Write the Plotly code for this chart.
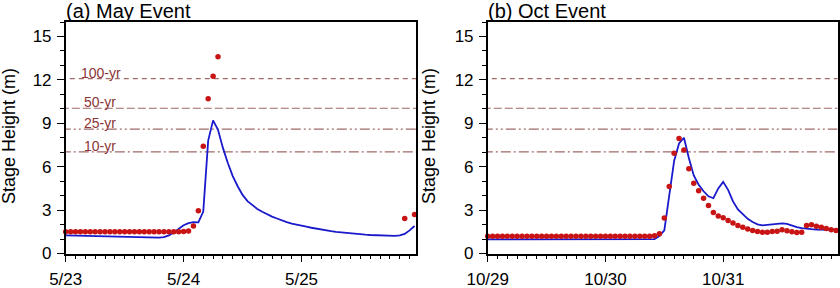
import plotly.graph_objects as go

hours = list(range(72))

# (a) May event
obs_may = [1.5, 1.5, 1.5, 1.5, 1.5, 1.5, 1.5, 1.5, 1.5, 1.5,
           1.5, 1.5, 1.5, 1.5, 1.5, 1.5, 1.5, 1.5, 1.5, 1.5,
           1.5, 1.5, 1.5, 1.5, 1.52, 1.55, 1.9, 2.95, 7.42, 10.7,
           12.25, 13.6, None, None, None, None, None, None, None, None,
           None, None, None, None, None, None, None, None, None, None,
           None, None, None, None, None, None, None, None, None, None,
           None, None, None, None, None, None, None, None, None, 2.42,
           None, 2.7]
model_may = [1.25, 1.24, 1.23, 1.22, 1.21, 1.2, 1.19, 1.18, 1.17, 1.16,
             1.15, 1.14, 1.13, 1.13, 1.12, 1.12, 1.11, 1.11, 1.1, 1.1,
             1.13, 1.25, 1.45, 1.72, 1.95, 2.1, 2.17, 2.15, 2.9, 7.8,
             9.2, 8.55, 7.3, 6.25, 5.35, 4.65, 4.05, 3.62, 3.32, 3.08,
             2.88, 2.7, 2.55, 2.42, 2.28, 2.17, 2.07, 1.98, 1.92, 1.85,
             1.78, 1.71, 1.65, 1.59, 1.54, 1.49, 1.45, 1.41, 1.38, 1.35,
             1.32, 1.3, 1.28, 1.26, 1.25, 1.24, 1.23, 1.22, 1.25, 1.35,
             1.6, 1.9]

# (b) Oct event
obs_oct = [1.2, 1.2, 1.2, 1.2, 1.2, 1.2, 1.2, 1.2, 1.2, 1.2,
           1.2, 1.2, 1.2, 1.2, 1.2, 1.2, 1.2, 1.2, 1.2, 1.2,
           1.2, 1.2, 1.2, 1.2, 1.2, 1.2, 1.2, 1.2, 1.2, 1.2,
           1.2, 1.2, 1.2, 1.2, 1.22, 1.36, 2.46, 4.63, 6.93, 7.95,
           7.16, 5.85, 4.86, 4.33, 3.82, 3.32, 2.83, 2.6, 2.47, 2.28,
           2.1, 1.94, 1.82, 1.7, 1.59, 1.52, 1.47, 1.47, 1.52, 1.54,
           1.64, 1.57, 1.5, 1.45, 1.47, 1.94, 1.98, 1.88, 1.82, 1.73,
           1.64, 1.59]
model_oct = [0.97, 0.97, 0.97, 0.97, 0.97, 0.97, 0.97, 0.97, 0.97, 0.97,
             0.97, 0.97, 0.97, 0.97, 0.97, 0.97, 0.97, 0.97, 0.97, 0.97,
             0.97, 0.97, 0.97, 0.97, 0.97, 0.97, 0.97, 0.97, 0.97, 0.97,
             0.97, 0.97, 0.97, 0.98, 1.0, 1.2, 1.6, 4.0, 6.4, 7.6,
             8.0, 6.6, 5.4, 4.75, 4.3, 3.95, 3.82, 4.5, 4.95, 4.4,
             3.6, 3.05, 2.7, 2.4, 2.18, 2.02, 1.95, 1.98, 2.02, 2.0,
             2.08, 2.05, 1.93, 1.82, 1.75, 1.7, 1.68, 1.66, 1.66, 1.65,
             1.65, 1.64]

may_ticks = ["5/23", "5/24", "5/25"]
oct_ticks = ["10/29", "10/30", "10/31"]
tick_hours = [0, 24, 48]

return_labels = ["100-yr", "50-yr", "25-yr", "10-yr"]
return_levels = [12.08, 10.04, 8.6, 7.02]
return_dashes = ["5px,4px", "8px,3px", "10px,3px,2px,3px,2px,3px", "10px,3px,2px,3px"]

panel_titles = ["(a) May Event", "(b) Oct Event"]

FONT = "Liberation Sans, Arial, sans-serif"
OBS_COLOR = "#c81414"
MOD_COLOR = "#1a1acc"
LINE_COLOR = "#a06a6a"
TXT_COLOR = "#8b3535"

W, H = 840, 288
xdom = [[65.7 / W, 416.0 / W], [487.7 / W, 837.5 / W]]
ydom = [(H - 253.5) / H, (H - 22.0) / H]

fig = go.Figure()

panels = [(obs_may, model_may, may_ticks), (obs_oct, model_oct, oct_ticks)]
for i, (obs, mod, ticks) in enumerate(panels):
    xa = "x" if i == 0 else "x2"
    ya = "y" if i == 0 else "y2"
    # return-period lines
    for lvl, dsh in zip(return_levels, return_dashes):
        fig.add_trace(go.Scatter(x=[-1, 73], y=[lvl, lvl], mode="lines",
                                 line=dict(color=LINE_COLOR, width=1.2, dash=dsh),
                                 xaxis=xa, yaxis=ya, showlegend=False, hoverinfo="skip"))
    fig.add_trace(go.Scatter(x=hours, y=mod, mode="lines",
                             line=dict(color=MOD_COLOR, width=1.8),
                             xaxis=xa, yaxis=ya, showlegend=False))
    fig.add_trace(go.Scatter(x=hours, y=obs, mode="markers",
                             marker=dict(color=OBS_COLOR, size=5.5),
                             xaxis=xa, yaxis=ya, showlegend=False, cliponaxis=False))

    axis_common = dict(showline=True, linecolor="black", linewidth=1.5, mirror=True,
                       showgrid=False, zeroline=False, ticks="outside", automargin=False,
                       tickcolor="black", tickwidth=1.2, ticklen=7,
                       tickfont=dict(family=FONT, size=17, color="black"))
    xkey = "xaxis" if i == 0 else "xaxis2"
    ykey = "yaxis" if i == 0 else "yaxis2"
    fig.update_layout(**{
        xkey: dict(axis_common, domain=xdom[i], range=[0, 71.3], anchor=ya,
                   tickmode="array", tickvals=tick_hours, ticktext=ticks,
                   ticklabelstandoff=2,
                   minor=dict(tickmode="linear", tick0=0, dtick=2, ticklen=4,
                              ticks="outside", tickcolor="black", tickwidth=1)),
        ykey: dict(axis_common, domain=ydom, range=[0, 16], anchor=xa,
                   tickmode="linear", tick0=0, dtick=3, ticklabelstandoff=2,
                   minor=dict(tickmode="linear", tick0=0, dtick=1, ticklen=4,
                              ticks="outside", tickcolor="black", tickwidth=1)),
    })

annotations = []
for lab, lvl in zip(return_labels, return_levels):
    annotations.append(dict(x=2.7 if lab == "100-yr" else 3.3, y=lvl, xref="x", yref="y",
                            text=lab, showarrow=False, xanchor="left", yanchor="bottom",
                            yshift=-4, font=dict(family=FONT, size=14, color=TXT_COLOR)))

title_x = [65.0, 486.5]
for t, tx in zip(panel_titles, title_x):
    annotations.append(dict(x=tx / W, y=1.0, xref="paper", yref="paper", text=t,
                            showarrow=False, xanchor="left", yanchor="top", yshift=2,
                            xshift=-1,
                            font=dict(family=FONT, size=20, color="black")))

for yx in [9.0, 429.0]:
    annotations.append(dict(x=yx / W, y=(H - 136.0) / H, xref="paper", yref="paper",
                            text="Stage Height (m)", showarrow=False, textangle=-90,
                            xanchor="center", yanchor="middle",
                            font=dict(family=FONT, size=18, color="black")))

fig.update_layout(width=W, height=H, margin=dict(l=0, r=0, t=0, b=0),
                  paper_bgcolor="white", plot_bgcolor="white",
                  annotations=annotations, showlegend=False)

fig.write_html("out.html")
